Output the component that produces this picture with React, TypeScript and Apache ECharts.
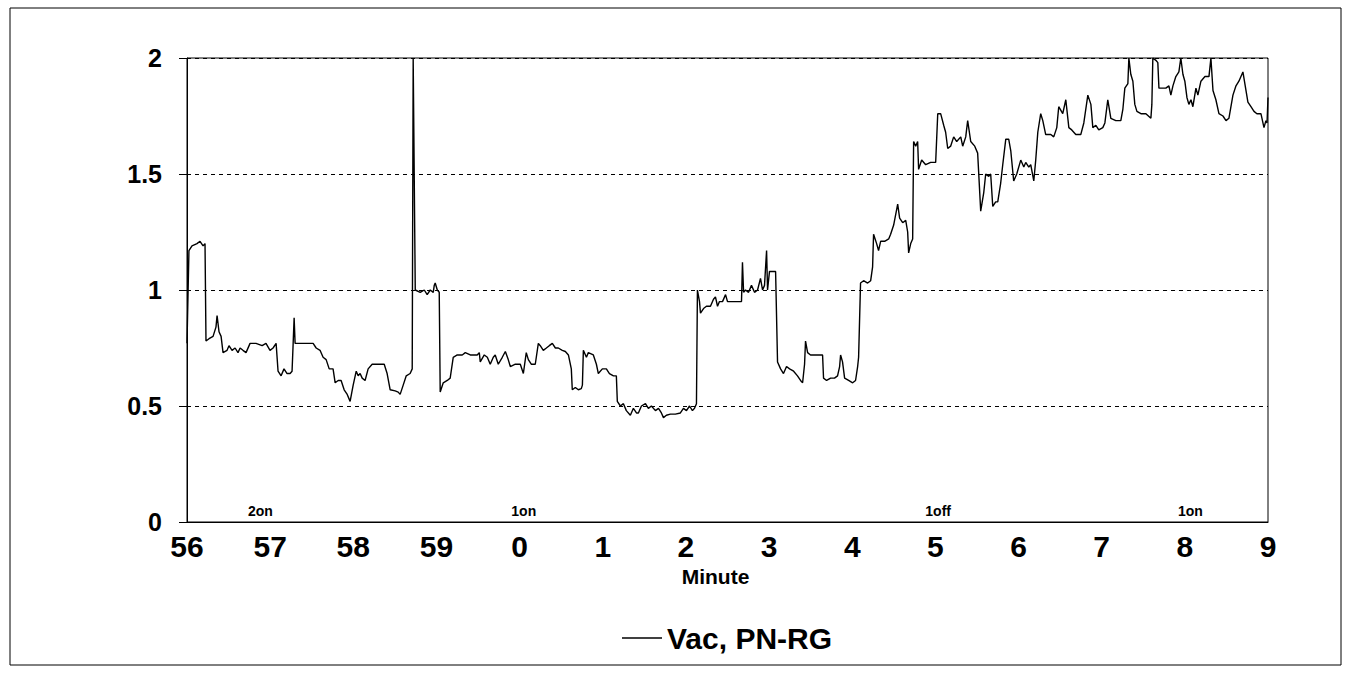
import React, { useEffect, useRef } from "react";
import * as echarts from "echarts";

// Elapsed seconds from 56:00 and the corresponding Vac, PN-RG reading
const seconds = [
  0, 1.4, 3.6, 7.2, 9.4, 11.6, 13.0, 13.7, 15.9, 18.8,
  20.9, 21.7, 23.1, 24.6, 26.0, 28.9, 30.3, 32.5, 34.7, 36.8,
  38.3, 40.4, 42.6, 45.5, 49.8, 54.2, 57.0, 59.9, 62.1, 64.3,
  65.7, 67.9, 70.0, 72.2, 74.4, 75.8, 76.6, 77.3, 78.0, 81.6,
  85.9, 91.0, 93.2, 96.0, 98.2, 100.4, 102.6, 105.4, 106.9, 109.1,
  111.2, 113.4, 115.6, 117.7, 119.9, 122.1, 123.5, 124.9, 126.4, 128.5,
  130.7, 133.6, 137.9, 142.3, 144.4, 146.6, 150.2, 152.4, 153.8, 156.0,
  158.2, 161.0, 162.5, 163.2, 164.7, 168.3, 171.2, 173.3, 175.5, 177.7,
  178.4, 179.1, 180.6, 182.0, 182.7, 184.9, 187.8, 189.9, 192.1, 195.0,
  198.6, 200.8, 204.4, 209.4, 210.9, 211.6, 214.5, 216.7, 218.8, 221.0,
  222.4, 224.6, 227.5, 229.7, 231.8, 233.3, 236.9, 240.5, 242.7, 244.8,
  246.3, 248.4, 251.3, 253.5, 254.9, 257.1, 259.3, 261.4, 263.6, 265.8,
  267.9, 270.8, 273.0, 275.2, 277.3, 278.0, 280.2, 282.4, 284.5, 285.3,
  286.0, 288.2, 289.6, 293.2, 295.4, 296.8, 299.7, 302.6, 304.8, 307.7,
  309.8, 310.5, 312.7, 314.9, 317.0, 319.9, 322.1, 324.3, 325.7, 327.9,
  330.8, 332.9, 335.1, 338.0, 340.2, 342.3, 343.8, 345.9, 348.8, 352.4,
  356.0, 358.2, 360.4, 362.6, 364.7, 366.2, 367.6, 368.3, 369.8, 370.5,
  372.7, 374.8, 377.7, 379.9, 381.3, 382.8, 384.2, 386.4, 388.6, 390.0,
  392.2, 395.8, 400.1, 400.8, 401.6, 403.0, 405.2, 407.3, 409.5, 411.7,
  413.8, 415.3, 416.7, 418.2, 418.9, 420.3, 422.5, 424.7, 426.1, 428.3,
  430.4, 432.6, 434.8, 437.7, 440.5, 442.7, 444.2, 445.6, 446.3, 447.8,
  449.9, 453.5, 458.6, 459.3, 461.5, 464.4, 467.2, 469.4, 470.9, 471.6,
  473.0, 474.5, 477.4, 480.3, 482.4, 483.9, 484.6, 486.0, 488.2, 491.1,
  493.3, 494.7, 495.4, 497.6, 499.0, 500.5, 503.4, 506.3, 507.7, 509.9,
  512.8, 514.2, 516.4, 518.6, 520.0, 520.7, 522.2, 523.6, 524.3, 525.8,
  527.2, 527.9, 530.1, 533.0, 536.6, 540.2, 541.7, 543.8, 546.0, 547.4,
  548.9, 551.0, 553.2, 555.4, 558.3, 559.7, 561.9, 563.3, 565.5, 568.4,
  570.5, 572.7, 574.9, 576.3, 578.5, 579.9, 581.4, 583.5, 585.0, 587.1,
  588.6, 590.8, 592.9, 594.4, 596.5, 598.7, 601.6, 603.8, 605.2, 607.4,
  608.8, 611.0, 612.4, 613.9, 616.0, 617.5, 619.6, 623.3, 625.4, 627.6,
  629.0, 631.9, 634.1, 636.3, 638.4, 641.3, 644.9, 647.1, 650.0, 652.2,
  653.6, 655.8, 657.9, 660.8, 662.3, 664.4, 666.6, 670.2, 673.8, 675.3,
  676.7, 678.9, 679.6, 681.0, 682.5, 683.9, 685.4, 688.3, 691.9, 695.5,
  696.2, 696.9, 699.1, 700.5, 701.3, 704.1, 706.3, 708.5, 709.9, 711.4,
  713.5, 715.7, 717.1, 718.6, 720.0, 721.5, 722.9, 724.4, 725.8, 728.0,
  729.4, 731.6, 734.5, 737.4, 738.8, 740.3, 742.4, 744.6, 747.5, 749.7,
  751.8, 754.7, 756.9, 759.0, 761.9, 764.1, 765.5, 767.7, 769.9, 772.0,
  774.9, 777.1, 778.5, 779.3, 780.0,
];

const vac = [
  0.77, 1.17, 1.19, 1.20, 1.21, 1.19, 1.20, 0.78, 0.79, 0.80,
  0.84, 0.89, 0.82, 0.80, 0.73, 0.74, 0.76, 0.74, 0.75, 0.73,
  0.75, 0.74, 0.73, 0.77, 0.77, 0.76, 0.77, 0.74, 0.75, 0.77,
  0.65, 0.63, 0.66, 0.64, 0.64, 0.65, 0.77, 0.88, 0.77, 0.77,
  0.77, 0.77, 0.75, 0.74, 0.71, 0.70, 0.66, 0.66, 0.60, 0.61,
  0.61, 0.57, 0.55, 0.52, 0.59, 0.65, 0.63, 0.64, 0.62, 0.61,
  0.66, 0.68, 0.68, 0.68, 0.64, 0.57, 0.565, 0.56, 0.55, 0.59,
  0.63, 0.64, 0.66, 2.0, 1.00, 0.99, 1.00, 0.98, 1.00, 0.99,
  1.02, 1.03, 1.00, 0.99, 0.56, 0.60, 0.61, 0.62, 0.71, 0.72,
  0.72, 0.73, 0.72, 0.72, 0.73, 0.69, 0.72, 0.71, 0.68, 0.71,
  0.72, 0.68, 0.71, 0.735, 0.70, 0.67, 0.68, 0.68, 0.64, 0.73,
  0.70, 0.68, 0.68, 0.77, 0.76, 0.74, 0.75, 0.76, 0.77, 0.75,
  0.75, 0.74, 0.735, 0.72, 0.66, 0.57, 0.58, 0.57, 0.575, 0.59,
  0.74, 0.71, 0.73, 0.72, 0.68, 0.64, 0.66, 0.66, 0.64, 0.63,
  0.63, 0.52, 0.50, 0.51, 0.48, 0.46, 0.49, 0.47, 0.47, 0.50,
  0.51, 0.49, 0.50, 0.48, 0.49, 0.47, 0.45, 0.46, 0.465, 0.465,
  0.47, 0.49, 0.48, 0.50, 0.48, 0.49, 0.51, 1.00, 0.95, 0.90,
  0.92, 0.93, 0.93, 0.96, 0.97, 0.93, 0.95, 0.95, 0.98, 0.95,
  0.95, 0.95, 0.95, 1.12, 0.99, 1.00, 0.99, 1.02, 0.99, 1.00,
  1.05, 1.00, 1.02, 1.17, 1.00, 1.08, 1.08, 1.08, 0.69, 0.66,
  0.64, 0.67, 0.66, 0.65, 0.63, 0.61, 0.60, 0.68, 0.78, 0.73,
  0.72, 0.72, 0.72, 0.62, 0.61, 0.62, 0.62, 0.63, 0.67, 0.72,
  0.69, 0.62, 0.61, 0.60, 0.61, 0.67, 0.71, 1.03, 1.04, 1.03,
  1.04, 1.10, 1.24, 1.20, 1.17, 1.21, 1.21, 1.22, 1.24, 1.28,
  1.37, 1.31, 1.29, 1.30, 1.25, 1.16, 1.20, 1.22, 1.64, 1.62,
  1.64, 1.52, 1.56, 1.54, 1.55, 1.55, 1.76, 1.76, 1.71, 1.68,
  1.61, 1.62, 1.66, 1.64, 1.66, 1.62, 1.66, 1.73, 1.64, 1.62,
  1.59, 1.34, 1.42, 1.50, 1.49, 1.50, 1.36, 1.38, 1.38, 1.46,
  1.54, 1.65, 1.65, 1.60, 1.47, 1.50, 1.56, 1.53, 1.55, 1.53,
  1.54, 1.47, 1.56, 1.68, 1.76, 1.73, 1.67, 1.67, 1.66, 1.70,
  1.79, 1.76, 1.82, 1.70, 1.69, 1.67, 1.67, 1.72, 1.84, 1.80,
  1.70, 1.71, 1.69, 1.70, 1.72, 1.82, 1.74, 1.73, 1.73, 1.78,
  1.87, 1.89, 2.00, 1.93, 1.90, 1.80, 1.77, 1.76, 1.76, 1.74,
  1.80, 2.00, 1.99, 1.98, 1.87, 1.87, 1.87, 1.88, 1.84, 1.88,
  1.92, 1.94, 2.00, 1.93, 1.90, 1.83, 1.80, 1.82, 1.79, 1.87,
  1.84, 1.90, 1.92, 1.92, 2.00, 1.86, 1.82, 1.76, 1.75, 1.73,
  1.74, 1.84, 1.88, 1.90, 1.94, 1.86, 1.81, 1.79, 1.77, 1.76,
  1.76, 1.70, 1.73, 1.72, 1.83,
];

const startMinute = 56;
const seriesName = "Vac, PN-RG";
const xAxisName = "Minute";
const eventLabels = ["2on", "1on", "1off", "1on"];
const eventSeconds = [53, 243, 542, 724];

const NARROW =
  "'Liberation Sans Narrow', 'Arial Narrow', 'Liberation Sans', Arial, sans-serif";
const REGULAR = "'Liberation Sans', Arial, sans-serif";

export default function App() {
  const ref = useRef<HTMLDivElement>(null);

  useEffect(() => {
    if (!ref.current) return;
    const chart = echarts.init(ref.current, null, { renderer: "svg" });
    const data = seconds.map((s, i) => [s, vac[i]]);

    chart.setOption({
      animation: false,
      backgroundColor: "#ffffff",
      grid: {
        left: 187,
        top: 58,
        width: 1081,
        height: 464,
        show: true,
        borderColor: "#000",
        borderWidth: 1,
      },
      legend: {
        show: true,
        data: [seriesName],
        left: 622,
        top: 622,
        padding: 0,
        icon: "rect",
        itemWidth: 40,
        itemHeight: 1.5,
        itemStyle: { color: "#000" },
        textStyle: {
          fontSize: 30,
          fontWeight: "bold",
          color: "#000",
          fontFamily: REGULAR,
          lineHeight: 32,
        },
      },
      xAxis: {
        type: "value",
        min: 0,
        max: 780,
        interval: 60,
        name: xAxisName,
        nameLocation: "middle",
        nameGap: 42,
        nameTextStyle: {
          fontSize: 21,
          fontWeight: "bold",
          color: "#000",
          fontFamily: NARROW,
          padding: [0, 24, 0, 0],
        },
        axisLine: { show: true, lineStyle: { color: "#000", width: 1 } },
        axisTick: { show: false },
        splitLine: { show: false },
        axisLabel: {
          formatter: (v: number) => String((startMinute + Math.round(v / 60)) % 60),
          color: "#000",
          fontSize: 30,
          fontWeight: "bold",
          fontFamily: NARROW,
          margin: 9,
        },
      },
      yAxis: {
        type: "value",
        min: 0,
        max: 2,
        interval: 0.5,
        axisLine: { show: true, lineStyle: { color: "#000", width: 1 } },
        axisTick: { show: true, length: 8, lineStyle: { color: "#000" } },
        splitLine: {
          show: true,
          lineStyle: { color: "#000", type: [4, 4], width: 1 },
        },
        axisLabel: {
          color: "#000",
          fontSize: 25,
          fontWeight: "bold",
          fontFamily: NARROW,
          margin: 25,
        },
      },
      series: [
        {
          type: "line",
          name: seriesName,
          data,
          symbol: "none",
          clip: true,
          lineStyle: { color: "#000", width: 1.4 },
          itemStyle: { color: "#000" },
          markPoint: {
            symbol: "rect",
            symbolSize: 1,
            itemStyle: { color: "rgba(0,0,0,0)" },
            label: {
              show: true,
              position: "top",
              distance: 4,
              formatter: "{b}",
              color: "#000",
              fontSize: 14,
              fontWeight: "bold",
              fontFamily: NARROW,
            },
            data: eventLabels.map((l, i) => ({
              name: l,
              coord: [eventSeconds[i], 0],
            })),
          },
        },
      ],
      graphic: [
        {
          type: "rect",
          silent: true,
          shape: { x: 10, y: 8, width: 1331, height: 657 },
          style: { fill: "none", stroke: "#000", lineWidth: 1 },
        },
      ],
    });

    return () => chart.dispose();
  }, []);

  return (
    <div
      ref={ref}
      style={{ position: "absolute", left: 0, top: 0, width: 1352, height: 675 }}
    />
  );
}
